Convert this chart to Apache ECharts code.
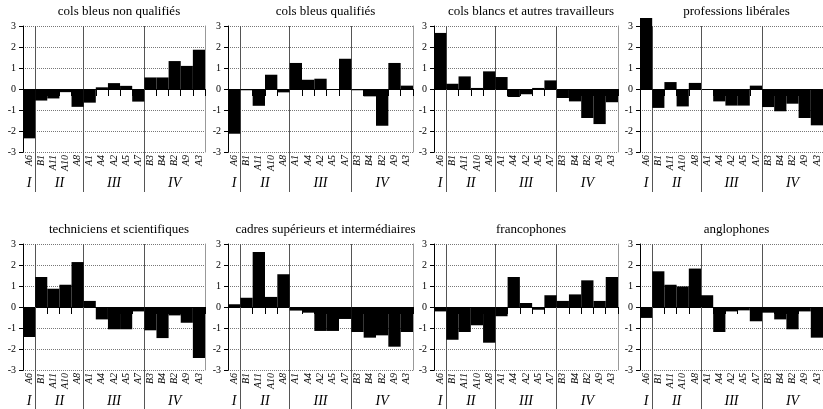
<!DOCTYPE html>
<html>
<head>
<meta charset="utf-8">
<script src="https://cdn.jsdelivr.net/npm/echarts@6/dist/echarts.min.js"></script>
<style>
  html, body { margin: 0; padding: 0; background: #fff; }
  #chart { width: 823px; height: 409px; }
</style>
</head>
<body>
<div id="chart"></div>
<script>
// categories along each panel, grouped I..IV
const categories = ['A6', 'B1', 'A11', 'A10', 'A8', 'A1', 'A4', 'A2', 'A5', 'A7', 'B3', 'B4', 'B2', 'A9', 'A3'];
const groupNames = ['I', 'II', 'III', 'IV'];
const groupCenters = [0, 2.5, 7, 12];   // middle of each group (category index)
const groupBreaks = [0.5, 4.5, 9.5];    // boundaries between groups

const titles = [
    'cols bleus non qualifiés', 'cols bleus qualifiés', 'cols blancs et autres travailleurs', 'professions libérales',
    'techniciens et scientifiques', 'cadres supérieurs et intermédiaires', 'francophones', 'anglophones'
];

// values, same order as categories
const colsBleusNonQualifies = [-2.35, -0.55, -0.45, -0.15, -0.85, -0.65, 0.08, 0.28, 0.15, -0.6, 0.55, 0.55, 1.33, 1.1, 1.87];
const colsBleusQualifies = [-2.13, -0.06, -0.8, 0.68, -0.16, 1.24, 0.44, 0.49, 0.0, 1.44, -0.06, -0.35, -1.75, 1.24, 0.16];
const colsBlancs = [2.67, 0.25, 0.6, 0.05, 0.84, 0.57, -0.38, -0.25, 0.05, 0.41, -0.43, -0.59, -1.38, -1.67, -0.63];
const professionsLiberales = [3.38, -0.9, 0.33, -0.83, 0.29, 0.0, -0.59, -0.79, -0.79, 0.16, -0.86, -1.06, -0.7, -1.38, -1.73];
const techniciens = [-1.43, 1.43, 0.87, 1.06, 2.14, 0.29, -0.59, -1.06, -1.06, -0.21, -1.11, -1.48, -0.4, -0.75, -2.43];
const cadres = [0.13, 0.44, 2.62, 0.48, 1.56, -0.17, -0.27, -1.14, -1.14, -0.57, -1.19, -1.46, -1.35, -1.89, -1.19];
const francophones = [-0.21, -1.56, -1.19, -0.87, -1.7, -0.44, 1.43, 0.19, -0.13, 0.56, 0.29, 0.6, 1.27, 0.29, 1.43];
const anglophones = [-0.52, 1.7, 1.06, 0.98, 1.83, 0.56, -1.19, -0.21, -0.16, -0.68, -0.27, -0.59, -1.06, -0.21, -1.46];

const panelValues = [colsBleusNonQualifies, colsBleusQualifies, colsBlancs, professionsLiberales,
    techniciens, cadres, francophones, anglophones];

const serif = "'Liberation Serif', 'DejaVu Serif', serif";
const cols = [{ left: 23, width: 182 }, { left: 228, width: 185 }, { left: 434, width: 184 }, { left: 640, width: 183 }];
const rowTops = [26, 244];
const plotHeight = 126;

var chart = echarts.init(document.getElementById('chart'));

var grid = [], xAxis = [], yAxis = [], series = [], title = [];

panelValues.forEach(function (values, i) {
    var c = cols[i % 4];
    var top = rowTops[Math.floor(i / 4)];
    grid.push({ left: c.left, top: top, width: c.width, height: plotHeight });

    title.push({
        text: titles[i],
        left: c.left + c.width / 2,
        top: top - 26,
        textAlign: 'center',
        textStyle: { fontFamily: serif, fontWeight: 'normal', fontSize: 13, color: '#000' }
    });

    // axis through zero, short ticks between bars
    xAxis.push({
        gridIndex: i, type: 'category', data: categories, position: 'bottom',
        axisLine: { onZero: true, lineStyle: { color: '#000', width: 1 } },
        axisTick: { show: true, interval: 0, length: 7, lineStyle: { color: '#000' } },
        axisLabel: { show: false },
        splitLine: { show: false }
    });
    // category labels under the plot
    xAxis.push({
        gridIndex: i, type: 'category', data: categories, position: 'bottom',
        axisLine: { show: false, onZero: false },
        axisTick: { show: false },
        axisLabel: { interval: 0, rotate: 90, margin: 3, fontFamily: serif, fontStyle: 'italic', fontSize: 10, color: '#000' },
        splitLine: { show: false }
    });
    // group separators, running from the top of the plot through the labels
    xAxis.push({
        gridIndex: i, type: 'value', min: -0.5, max: 14.5, position: 'bottom', offset: 40,
        axisLine: { show: false, onZero: false },
        axisTick: { show: true, inside: true, length: plotHeight + 40, customValues: groupBreaks, lineStyle: { color: '#555' } },
        axisLabel: { show: false },
        splitLine: { show: false }
    });
    // group names I..IV
    xAxis.push({
        gridIndex: i, type: 'value', min: -0.5, max: 14.5, position: 'bottom', offset: 16,
        axisLine: { show: false, onZero: false },
        axisTick: { show: false },
        axisLabel: {
            customValues: groupCenters,
            formatter: function (v) { return groupNames[groupCenters.indexOf(v)]; },
            fontFamily: serif, fontStyle: 'italic', fontSize: 14, color: '#000'
        },
        splitLine: { show: false }
    });

    yAxis.push({
        gridIndex: i, type: 'value', min: -3, max: 3, interval: 1,
        axisLine: { show: true, onZero: false, lineStyle: { color: '#000' } },
        axisTick: { show: true, length: 4, lineStyle: { color: '#000' } },
        axisLabel: { fontFamily: serif, fontSize: 10, color: '#000', margin: 7 },
        splitLine: { show: true, lineStyle: { type: 'dotted', color: '#777' } }
    });
    yAxis.push({
        gridIndex: i, type: 'value', min: -3, max: 3, position: 'right',
        axisLine: { show: true, onZero: false, lineStyle: { color: '#999' } },
        axisTick: { show: false },
        axisLabel: { show: false },
        splitLine: { show: false }
    });

    series.push({
        type: 'bar',
        xAxisIndex: 4 * i,
        yAxisIndex: 2 * i,
        data: values,
        barWidth: '100%',
        clip: false,
        silent: true,
        itemStyle: { color: '#000' }
    });
});

var option = {
    animation: false,
    backgroundColor: '#fff',
    title: title,
    grid: grid,
    xAxis: xAxis,
    yAxis: yAxis,
    series: series
};

chart.setOption(option);
window.addEventListener('resize', chart.resize);
</script>
</body>
</html>
